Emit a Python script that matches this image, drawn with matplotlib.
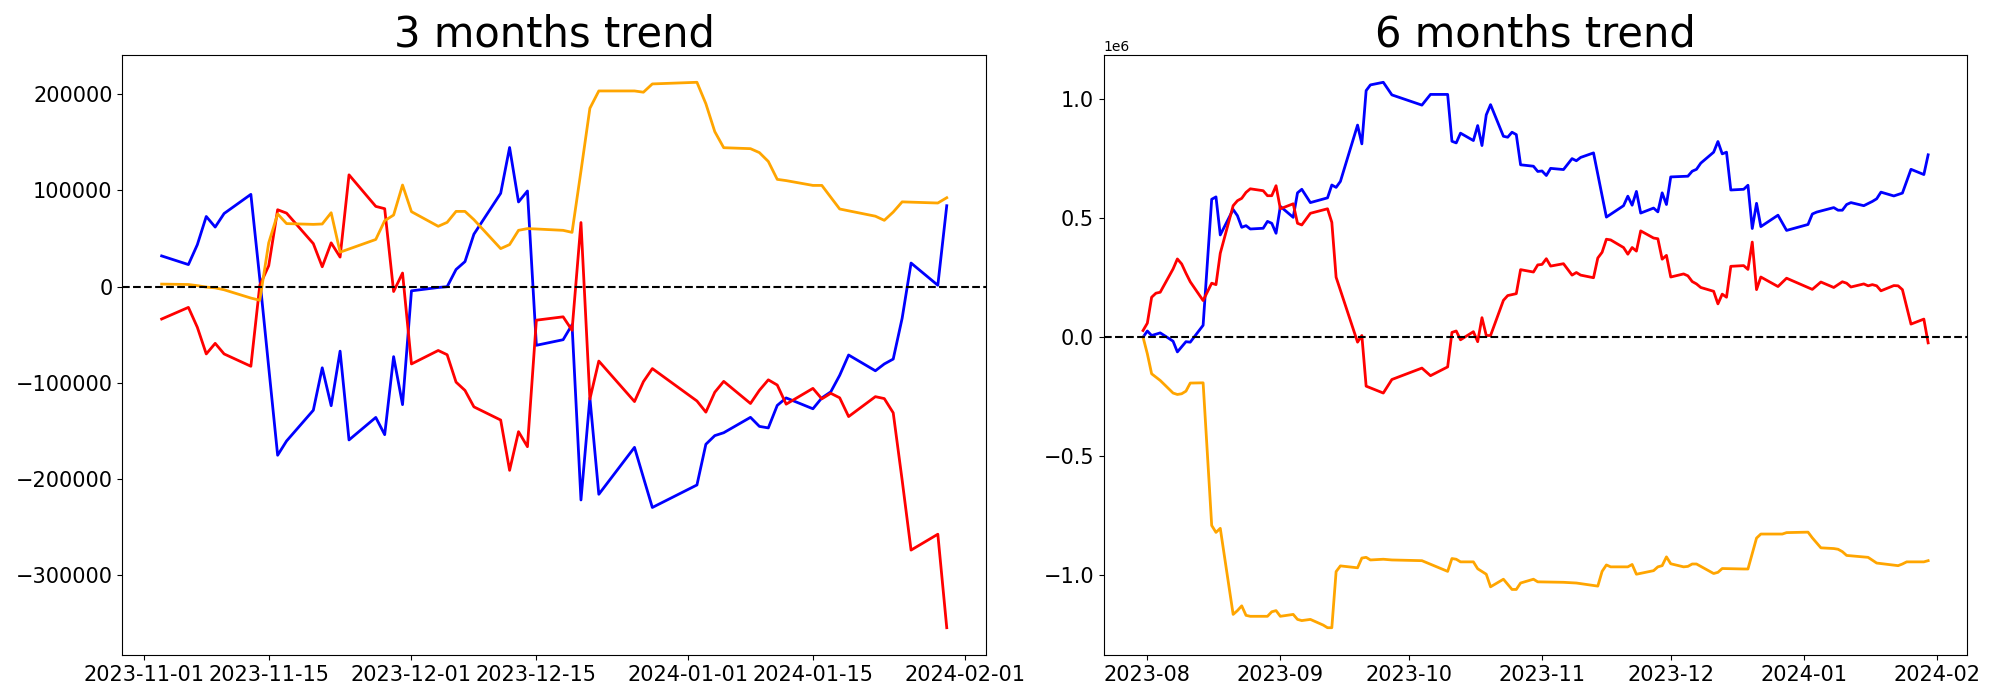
import matplotlib
matplotlib.use("Agg")
import matplotlib.pyplot as plt
import pandas as pd

# ---- 3 months data (business days) ----
dates3 = [
    "2023-11-03", "2023-11-06", "2023-11-07", "2023-11-08", "2023-11-09", "2023-11-10",
    "2023-11-13", "2023-11-14", "2023-11-15", "2023-11-16", "2023-11-17",
    "2023-11-20", "2023-11-21", "2023-11-22", "2023-11-23", "2023-11-24",
    "2023-11-27", "2023-11-28", "2023-11-29", "2023-11-30", "2023-12-01",
    "2023-12-04", "2023-12-05", "2023-12-06", "2023-12-07", "2023-12-08",
    "2023-12-11", "2023-12-12", "2023-12-13", "2023-12-14", "2023-12-15",
    "2023-12-18", "2023-12-19", "2023-12-20", "2023-12-21", "2023-12-22",
    "2023-12-26", "2023-12-27", "2023-12-28",
    "2024-01-02", "2024-01-03", "2024-01-04", "2024-01-05",
    "2024-01-08", "2024-01-09", "2024-01-10", "2024-01-11", "2024-01-12",
    "2024-01-15", "2024-01-16", "2024-01-17", "2024-01-18", "2024-01-19",
    "2024-01-22", "2024-01-23", "2024-01-24", "2024-01-25", "2024-01-26",
    "2024-01-29", "2024-01-30",
]
blue3 = [31800, 22800, 43500, 72800, 61800, 75900, 95800, 8000, -84000, -175400,
         -160600, -128600, -84500, -123900, -67200, -159500, -136100, -154000, -72900, -122800,
         -4500, -1000, -200, 17700, 25900, 54400, 96900, 144500, 87900, 99300,
         -61100, -55300, -39700, -221900, -115700, -216000, -167200, -198600, -229700,
         -206300, -164000, -155000, -152000, -136000, -145400, -147000, -123600, -115800, -127100,
         -115800, -109500, -92300, -71200, -87600, -80500, -75400, -33000, 24400, 1300, 84000]
red3 = [-33800, -21700, -42400, -70100, -59100, -70100, -82900, 1300, 21600, 79800,
        76300, 44600, 20500, 45400, 30600, 116100, 83300, 80900, -5200, 14000,
        -80500, -66500, -70900, -99400, -108000, -125100, -138800, -191100, -150900, -166500,
        -35000, -31500, -45500, 66500, -117000, -77500, -119600, -98900, -85300,
        -119000, -130600, -109900, -98600, -121600, -107900, -97000, -102400, -122300, -105900,
        -116800, -111000, -115700, -135200, -114500, -116500, -131300, -201200, -274000, -257500, -354700]
orange3 = [2500, 2100, 900, -600, -1400, -3400, -12000, -14300, 45400, 75500,
           65400, 64600, 65000, 76700, 35700, 39000, 48900, 68400, 74300, 105500,
           77800, 62600, 66700, 78100, 78100, 69500, 39400, 43600, 58400, 60200,
           59800, 58400, 56300, 120000, 185300, 203300, 203300, 202000, 210600,
           212300, 190000, 161000, 144300, 143300, 139200, 130000, 111400, 110100, 105100,
           105100, 92800, 80600, 78700, 73100, 68800, 77400, 88000, 87700, 86800, 92300]

# ---- 6 months data (day offsets from 2023-08-01, values in millions) ----
start6 = "2023-08-01"
blue6_days = [-1, 0, 1, 3, 5, 6, 7, 9, 10, 13, 15, 16, 17, 20, 21, 22, 23, 24, 27, 28,
              29, 30, 31, 34, 35, 36, 38, 42, 43, 44, 45, 49, 50, 51, 52, 55, 57, 64, 66, 70,
              71, 72, 73, 76, 77, 78, 79, 80, 83, 84, 85, 86, 87, 90, 91, 92, 93, 94, 97, 99,
              100, 101, 104, 107, 111, 112, 113, 114, 115, 118, 119, 120, 121, 122, 126, 127, 128, 129, 132, 133,
              134, 135, 136, 139, 140, 141, 142, 143, 147, 149, 154, 155, 156, 160, 161, 162, 163, 164, 167, 169,
              170, 171, 174, 176, 178, 181, 182]
blue6 = [0.0, 0.026, 0.007, 0.018, -0.005, -0.017, -0.062, -0.019, -0.021, 0.05,
         0.58, 0.59, 0.43, 0.537, 0.511, 0.462, 0.469, 0.455, 0.458, 0.487,
         0.479, 0.437, 0.55, 0.504, 0.607, 0.622, 0.566, 0.586, 0.64, 0.63,
         0.655, 0.892, 0.813, 1.037, 1.061, 1.072, 1.019, 0.976, 1.021, 1.021,
         0.824, 0.817, 0.858, 0.827, 0.89, 0.806, 0.935, 0.978, 0.845, 0.841,
         0.862, 0.852, 0.725, 0.719, 0.697, 0.699, 0.68, 0.71, 0.705, 0.751,
         0.742, 0.756, 0.775, 0.505, 0.553, 0.593, 0.555, 0.613, 0.522, 0.543,
         0.527, 0.607, 0.558, 0.674, 0.677, 0.698, 0.706, 0.732, 0.778, 0.823,
         0.771, 0.778, 0.619, 0.622, 0.639, 0.457, 0.563, 0.465, 0.513, 0.449,
         0.474, 0.518, 0.526, 0.545, 0.534, 0.534, 0.558, 0.566, 0.553, 0.571,
         0.582, 0.61, 0.594, 0.606, 0.706, 0.684, 0.767]
red6_days = [-1, 0, 1, 2, 3, 6, 7, 8, 9, 10, 13, 15, 16, 17, 20, 21, 22, 23, 24, 27,
             28, 29, 30, 31, 34, 35, 36, 38, 42, 43, 44, 49, 50, 51, 55, 57, 64, 66, 70, 71,
             72, 73, 76, 77, 78, 79, 80, 83, 84, 86, 87, 90, 91, 92, 93, 94, 97, 99, 100, 101,
             104, 105, 106, 107, 108, 111, 112, 113, 114, 115, 118, 119, 120, 121, 122, 125, 126, 127, 128, 129,
             132, 133, 134, 135, 136, 139, 140, 141, 142, 143, 147, 149, 155, 157, 160, 162, 163, 164, 167, 168,
             169, 170, 171, 174, 175, 176, 178, 181, 182]
red6 = [0.028, 0.059, 0.168, 0.185, 0.189, 0.287, 0.329, 0.308, 0.269, 0.233,
        0.154, 0.227, 0.221, 0.353, 0.553, 0.574, 0.584, 0.609, 0.624, 0.616,
        0.595, 0.595, 0.637, 0.54, 0.561, 0.479, 0.472, 0.521, 0.54, 0.483,
        0.252, -0.021, 0.007, -0.206, -0.235, -0.178, -0.13, -0.162, -0.125, 0.02,
        0.026, -0.011, 0.023, -0.019, 0.082, 0.007, 0.007, 0.155, 0.175, 0.183,
        0.284, 0.274, 0.304, 0.306, 0.33, 0.299, 0.309, 0.261, 0.272, 0.261,
        0.25, 0.333, 0.357, 0.412, 0.409, 0.377, 0.349, 0.377, 0.362, 0.447,
        0.417, 0.414, 0.328, 0.344, 0.253, 0.266, 0.258, 0.234, 0.224, 0.209,
        0.193, 0.14, 0.181, 0.168, 0.298, 0.301, 0.285, 0.4, 0.2, 0.253,
        0.213, 0.248, 0.201, 0.232, 0.209, 0.233, 0.227, 0.211, 0.224, 0.216,
        0.221, 0.216, 0.195, 0.217, 0.216, 0.2, 0.055, 0.076, -0.024]
orange6_days = [-1, 0, 1, 3, 6, 7, 8, 9, 10, 13, 15, 16, 17, 20, 21, 22, 23, 24, 27, 28,
                29, 30, 31, 34, 35, 36, 38, 41, 42, 43, 44, 45, 49, 50, 51, 52, 55, 57, 64, 70,
                71, 72, 73, 76, 77, 79, 80, 83, 85, 86, 87, 90, 91, 97, 100, 105, 106, 107, 108, 112,
                113, 114, 118, 119, 120, 121, 122, 125, 126, 127, 128, 132, 133, 134, 139, 140, 142, 143, 148, 149,
                154, 155, 157, 160, 161, 162, 163, 168, 170, 175, 176, 177, 181, 182]
orange6 = [0.0, -0.07, -0.154, -0.182, -0.235, -0.241, -0.238, -0.227, -0.193, -0.192,
           -0.792, -0.821, -0.804, -1.166, -1.15, -1.13, -1.17, -1.174, -1.174, -1.174,
           -1.155, -1.15, -1.174, -1.166, -1.187, -1.192, -1.187, -1.211, -1.222, -1.222,
           -0.986, -0.962, -0.97, -0.929, -0.926, -0.937, -0.934, -0.937, -0.94, -0.985,
           -0.931, -0.934, -0.945, -0.945, -0.974, -0.997, -1.05, -1.018, -1.061, -1.061,
           -1.034, -1.018, -1.029, -1.031, -1.034, -1.047, -0.985, -0.958, -0.966, -0.966,
           -0.956, -0.997, -0.982, -0.966, -0.961, -0.924, -0.953, -0.966, -0.964, -0.954,
           -0.954, -0.994, -0.989, -0.973, -0.975, -0.975, -0.845, -0.828, -0.828, -0.822,
           -0.82, -0.844, -0.886, -0.889, -0.892, -0.902, -0.918, -0.926, -0.95, -0.961,
           -0.954, -0.945, -0.945, -0.94]


def to_dates(days):
    return pd.Timestamp(start6) + pd.to_timedelta(days, unit="D")


d3 = pd.to_datetime(dates3)

fig, (ax1, ax2) = plt.subplots(1, 2, figsize=(20, 7), dpi=100)

ax1.plot(d3, blue3, color="blue", linewidth=2)
ax1.plot(d3, red3, color="red", linewidth=2)
ax1.plot(d3, orange3, color="orange", linewidth=2)
ax1.axhline(0, color="black", linestyle="--", linewidth=1.5)
ax1.set_title("3 months trend", fontsize=30)
ax1.tick_params(labelsize=15)

ax2.plot(to_dates(blue6_days), [v * 1e6 for v in blue6], color="blue", linewidth=2)
ax2.plot(to_dates(red6_days), [v * 1e6 for v in red6], color="red", linewidth=2)
ax2.plot(to_dates(orange6_days), [v * 1e6 for v in orange6], color="orange", linewidth=2)
ax2.axhline(0, color="black", linestyle="--", linewidth=1.5)
ax2.set_title("6 months trend", fontsize=30)
ax2.tick_params(labelsize=15)

plt.subplots_adjust(left=0.0612, right=0.9837, top=0.9214, bottom=0.0643, wspace=0.1364)
plt.savefig("out.png")
